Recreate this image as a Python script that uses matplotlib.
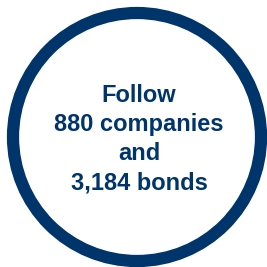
import matplotlib.pyplot as plt
from matplotlib.patches import Circle

# textos del circulo
n_companies = 880
n_bonds = 3184
lineas = ["Follow", f"{n_companies} companies", "and", f"{n_bonds:,} bonds"]
y_lineas = [96, 125, 154, 183]  # posicion vertical de cada linea (px)

azul = "#00356B"

fig = plt.figure(figsize=(2.67, 2.67), dpi=100)
ax = fig.add_axes([0, 0, 1, 1])
ax.set_xlim(0, 267)
ax.set_ylim(267, 0)
ax.axis("off")

# anillo azul
ax.add_patch(Circle((137, 137), 124, fill=False, edgecolor=azul, linewidth=8.8))

for texto, y in zip(lineas, y_lineas):
    ax.text(139, y, texto, ha="center", va="center", color=azul,
            fontsize=17, fontweight="bold", family="Liberation Sans")

fig.savefig("out.png", dpi=100)
